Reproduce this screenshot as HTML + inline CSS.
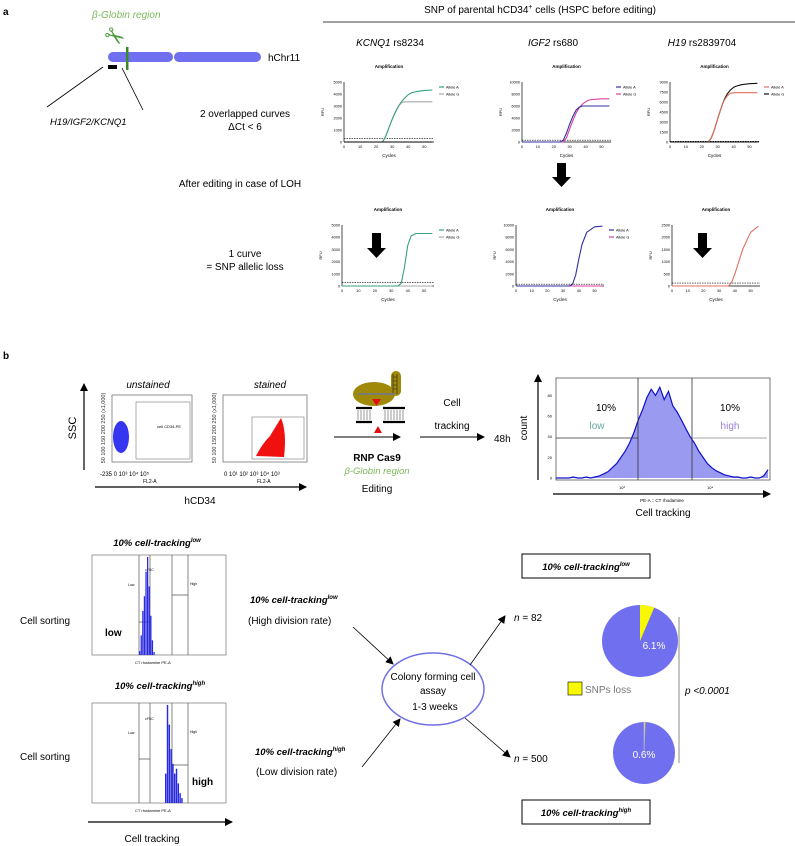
<!DOCTYPE html>
<html><head><meta charset="utf-8"><style>
html,body{margin:0;padding:0;background:#fff}
svg{display:block;font-family:"Liberation Sans",Arial,sans-serif}
</style></head><body>
<svg id="fig" width="795" height="846" viewBox="0 0 795 846" xmlns="http://www.w3.org/2000/svg">
<defs>
<marker id="ah" markerWidth="8" markerHeight="8" refX="7" refY="4" orient="auto" markerUnits="userSpaceOnUse"><path d="M0,0 L8,4 L0,8 z" fill="#000"/></marker>
</defs>
<g>
<text x="3" y="15" font-size="10" font-weight="bold">a</text>
<text x="92" y="18" font-size="10" font-style="italic" fill="#7ab85a">β-Globin region</text>
<text x="104" y="46" font-size="24" fill="#4a9a3a" transform="rotate(35 116 38)">✂</text>
<rect x="108" y="52" width="65" height="10" rx="5" fill="#6f6ff0"/>
<rect x="174" y="52" width="87" height="10" rx="5" fill="#6f6ff0"/>
<rect x="126" y="47" width="2.5" height="23" fill="#3a8a2a"/>
<rect x="108" y="65" width="9" height="4" fill="#000"/>
<line x1="103" y1="67" x2="47" y2="107" stroke="#000" stroke-width="0.8"/>
<line x1="122" y1="68" x2="143" y2="110" stroke="#000" stroke-width="0.8"/>
<text x="268" y="61" font-size="10">hChr11</text>
<text x="50" y="125" font-size="9.5" font-style="italic">H19/IGF2/KCNQ1</text>
<text x="245" y="117" font-size="10" text-anchor="middle">2  overlapped curves</text>
<text x="245" y="130" font-size="10" text-anchor="middle">ΔCt &lt; 6</text>
<text x="240" y="187" font-size="10" text-anchor="middle">After editing  in case of LOH</text>
<text x="245" y="257" font-size="10" text-anchor="middle">1 curve</text>
<text x="245" y="270" font-size="10" text-anchor="middle">= SNP allelic loss</text>
<text x="540" y="13" font-size="10" text-anchor="middle">SNP of parental hCD34<tspan dy="-4" font-size="7">+</tspan><tspan dy="4"> cells (HSPC before editing)</tspan></text>
<line x1="323" y1="22" x2="795" y2="22" stroke="#000" stroke-width="0.8"/>
<text x="390" y="46" font-size="10" text-anchor="middle"><tspan font-style="italic">KCNQ1</tspan> rs8234</text>
<text x="553" y="46" font-size="10" text-anchor="middle"><tspan font-style="italic">IGF2</tspan> rs680</text>
<text x="702" y="46" font-size="10" text-anchor="middle"><tspan font-style="italic">H19</tspan> rs2839704</text>
<path d="M557,163 h9 v14 h5 l-9.5,10 l-9.5,-10 h5 z" fill="#000"/>
<path d="M372,233 h9 v15 h5 l-9.5,10 l-9.5,-10 h5 z" fill="#000"/>
<path d="M698,233 h9 v15 h5 l-9.5,10 l-9.5,-10 h5 z" fill="#000"/>
</g>
<g id="qpcr"></g>

<g>
<text x="3" y="359" font-size="10" font-weight="bold">b</text>
<line x1="84" y1="470" x2="84" y2="384" stroke="#000" stroke-width="1.2" marker-end="url(#ah)"/>
<text x="76" y="428" font-size="11" transform="rotate(-90 76 428)" text-anchor="middle">SSC</text>
<line x1="95" y1="487" x2="306" y2="487" stroke="#000" stroke-width="1.2" marker-end="url(#ah)"/>
<text x="200" y="504" font-size="10" text-anchor="middle">hCD34</text>
<text x="148" y="388" font-size="10" font-style="italic" text-anchor="middle">unstained</text>
<text x="270" y="388" font-size="10" font-style="italic" text-anchor="middle">stained</text>
<rect x="112" y="395" width="80" height="67" fill="none" stroke="#777" stroke-width="0.8"/>
<rect x="136" y="402" width="54" height="57" fill="none" stroke="#777" stroke-width="0.6"/>
<text x="157" y="428" font-size="4">cell CD34-PE</text>
<ellipse cx="121" cy="437" rx="8" ry="16" fill="#2020f0" opacity="0.9"/>
<text x="105" y="428" font-size="5.5" transform="rotate(-90 105 428)" text-anchor="middle" fill="#333">50 100 150 200 250 (x1,000)</text>
<text x="100" y="476" font-size="6">-235  0   10³  10⁴  10⁵</text>
<text x="143" y="483" font-size="5">FL2-A</text>
<rect x="223" y="395" width="84" height="67" fill="none" stroke="#777" stroke-width="0.8"/>
<rect x="252" y="417" width="52" height="42" fill="none" stroke="#777" stroke-width="0.6"/>
<path d="M256,456 Q262,444 270,436 Q276,426 281,418 Q287,432 284,457 z" fill="#f01010"/>
<text x="216" y="428" font-size="5.5" transform="rotate(-90 216 428)" text-anchor="middle" fill="#333">50 100 150 200 250 (x1,000)</text>
<text x="224" y="476" font-size="6">0 10¹ 10² 10³ 10⁴ 10³</text>
<text x="257" y="483" font-size="5">FL2-A</text>
<g>
<ellipse cx="374" cy="394" rx="21" ry="12" fill="#a08808"/>
<rect x="391" y="371" width="10" height="25" rx="5" fill="#a08808"/>
<path d="M393,374 v20 M397,374 v20 M393,377h4M393,381h4M393,385h4M393,389h4" stroke="#222" stroke-width="0.6"/>
<line x1="358" y1="394" x2="395" y2="394" stroke="#6a7a9a" stroke-width="1.5"/>
<path d="M372,399 h9 l-4.5,7 z" fill="#e01010"/>
<path d="M356,408 h16 M383,408 h22 M356,422 h16 M383,422 h22" stroke="#000" stroke-width="2.2"/>
<path d="M358,410 v10 M361,410v10 M364,410v10 M367,410v10 M370,410v10 M385,410v10 M388,410v10 M391,410v10 M394,410v10 M397,410v10 M400,410v10 M403,410v10" stroke="#000" stroke-width="0.4"/>
<path d="M378,426 l4,7 h-8 z" fill="#e01010"/>
</g>
<line x1="334" y1="437" x2="400" y2="437" stroke="#000" stroke-width="1" marker-end="url(#ah)"/>
<text x="377" y="461" font-size="10" font-weight="bold" text-anchor="middle">RNP Cas9</text>
<text x="377" y="474" font-size="9.5" font-style="italic" fill="#7ab85a" text-anchor="middle">β-Globin region</text>
<text x="377" y="492" font-size="10" text-anchor="middle">Editing</text>
<text x="452" y="406" font-size="10" text-anchor="middle">Cell</text>
<text x="452" y="429" font-size="10" text-anchor="middle">tracking</text>
<line x1="420" y1="437" x2="484" y2="437" stroke="#000" stroke-width="1" marker-end="url(#ah)"/>
<text x="494" y="442" font-size="10">48h</text>
<line x1="538" y1="480" x2="538" y2="375" stroke="#000" stroke-width="1.2" marker-end="url(#ah)"/>
<text x="527" y="428" font-size="10" transform="rotate(-90 527 428)" text-anchor="middle">count</text>
<line x1="553" y1="494" x2="770" y2="494" stroke="#000" stroke-width="1.2" marker-end="url(#ah)"/>
<rect x="556" y="378" width="214" height="102" fill="none" stroke="#555" stroke-width="0.8"/>
</g>
<g id="hist"></g>
<g>
<line x1="638" y1="378" x2="638" y2="480" stroke="#333" stroke-width="0.8"/>
<line x1="692" y1="378" x2="692" y2="480" stroke="#333" stroke-width="0.8"/>
<line x1="556" y1="438" x2="638" y2="438" stroke="#333" stroke-width="0.8"/>
<line x1="692" y1="438" x2="767" y2="438" stroke="#888" stroke-width="0.8"/>
<text x="606" y="411" font-size="10" text-anchor="middle">10%</text>
<text x="597" y="429" font-size="10" fill="#66a8a0" text-anchor="middle">low</text>
<text x="730" y="411" font-size="10" text-anchor="middle">10%</text>
<text x="730" y="429" font-size="10" fill="#9a80d8" text-anchor="middle">high</text>
<text x="662" y="502" font-size="4.5" text-anchor="middle">PE-A :: CT rhodamine</text>
<text x="663" y="516" font-size="10" text-anchor="middle">Cell tracking</text>
<text x="619" y="489" font-size="4">10³</text>
<text x="707" y="489" font-size="4">10⁴</text>
</g>

<g>
<text x="157" y="546" font-size="9.5" font-weight="bold" font-style="italic" text-anchor="middle">10% cell-tracking<tspan dy="-4" font-size="6">low</tspan></text>
<rect x="92" y="555" width="134" height="100" fill="none" stroke="#777" stroke-width="0.7"/>
<text x="20" y="624" font-size="10">Cell sorting</text>
<text x="105" y="636" font-size="10" font-weight="bold">low</text>
<text x="160" y="689" font-size="9.5" font-weight="bold" font-style="italic" text-anchor="middle">10% cell-tracking<tspan dy="-4" font-size="6">high</tspan></text>
<rect x="92" y="703" width="134" height="100" fill="none" stroke="#777" stroke-width="0.7"/>
<text x="20" y="760" font-size="10">Cell sorting</text>
<text x="192" y="785" font-size="10" font-weight="bold">high</text>
<line x1="88" y1="822" x2="232" y2="822" stroke="#000" stroke-width="1.2" marker-end="url(#ah)"/>
<text x="152" y="842" font-size="10" text-anchor="middle">Cell tracking</text>
<g stroke="#555" stroke-width="0.7" fill="none">
<path d="M139,555v100 M150,555v100 M172,555v100 M188,555v100 M172,595h16 M139,622h11"/>
<path d="M139,703v100 M150,703v100 M172,703v100 M188,703v100 M139,759h11 M172,765h16"/>
</g>
<text x="128" y="586" font-size="3.5">Low</text><text x="190" y="585" font-size="3.5">High</text>
<text x="128" y="734" font-size="3.5">Low</text><text x="190" y="733" font-size="3.5">High</text>
<text x="145" y="571" font-size="3.5">cFSC</text><text x="145" y="720" font-size="3.5">cFSC</text>
<text x="135" y="664" font-size="4">CT rhodamine PE-A</text>
<text x="135" y="812" font-size="4">CT rhodamine PE-A</text>
</g>
<g id="sorthist"></g>

<g>
<text x="250" y="603" font-size="9.5" font-weight="bold" font-style="italic">10% cell-tracking<tspan dy="-4" font-size="6">low</tspan></text>
<text x="248" y="624" font-size="10">(High division rate)</text>
<text x="255" y="755" font-size="9.5" font-weight="bold" font-style="italic">10% cell-tracking<tspan dy="-4" font-size="6">high</tspan></text>
<text x="256" y="775" font-size="10">(Low division rate)</text>
<ellipse cx="433" cy="689" rx="51" ry="36" fill="none" stroke="#7070e8" stroke-width="1.5"/>
<text x="433" y="680" font-size="10" text-anchor="middle">Colony forming cell</text>
<text x="433" y="694" font-size="10" text-anchor="middle">assay</text>
<text x="435" y="710" font-size="10" text-anchor="middle">1-3 weeks</text>
<line x1="353" y1="627" x2="393" y2="664" stroke="#000" stroke-width="0.8" marker-end="url(#ah)"/>
<line x1="362" y1="767" x2="400" y2="719" stroke="#000" stroke-width="0.8" marker-end="url(#ah)"/>
<line x1="470" y1="665" x2="505" y2="616" stroke="#000" stroke-width="0.8" marker-end="url(#ah)"/>
<line x1="465" y1="718" x2="510" y2="757" stroke="#000" stroke-width="0.8" marker-end="url(#ah)"/>
<text x="514" y="621" font-size="10"><tspan font-style="italic">n</tspan> = 82</text>
<text x="514" y="762" font-size="10"><tspan font-style="italic">n</tspan> = 500</text>
<rect x="522" y="554" width="128" height="24" fill="none" stroke="#000" stroke-width="1"/>
<text x="586" y="570" font-size="9.5" font-weight="bold" font-style="italic" text-anchor="middle">10% cell-tracking<tspan dy="-4" font-size="6">low</tspan></text>
<rect x="522" y="800" width="128" height="24" fill="none" stroke="#000" stroke-width="1"/>
<text x="586" y="816" font-size="9.5" font-weight="bold" font-style="italic" text-anchor="middle">10% cell-tracking<tspan dy="-4" font-size="6">high</tspan></text>
<rect x="568" y="682" width="14" height="13" fill="#f8f800" stroke="#000" stroke-width="0.6"/>
<text x="585" y="693" font-size="10" fill="#777">SNPs loss</text>
<line x1="679" y1="617" x2="679" y2="763" stroke="#888" stroke-width="1"/>
<text x="685" y="694" font-size="10" font-style="italic">p &lt;0.0001</text>
</g>
<g id="pies"></g>
</svg>
<script>
const NS='http://www.w3.org/2000/svg';
const cycles=[0,20,24,26,28,30,32,34,36,38,40,42,45,50,55];
const kcnqTopA=[0,0,0,500,1200,1900,2500,3000,3400,3700,3950,4100,4200,4300,4330];
const kcnqTopG=[0,0,0,500,1200,1900,2500,3000,3300,3350,3350,3350,3350,3350,3350];
const igfTopA=[0,0,0,300,1500,3000,4300,5300,5800,6000,6000,6000,6000,6000,6000];
const igfTopG=[0,0,0,0,700,2200,3600,4800,5700,6300,6700,7000,7100,7200,7200];
const h19TopA=[0,0,0,600,1900,3500,5000,6200,6900,7300,7400,7400,7400,7400,7400];
const h19TopG=[0,0,0,600,1900,3500,5000,6300,7200,7800,8200,8400,8600,8750,8800];
const h19TopFlat=[0,0,0,0,0,0,0,0,0,0,0,0,0,0,0];
const kcnqBotA=[0,0,0,0,0,0,0,0,200,1500,3300,4100,4300,4300,4300];
const igfBotA=[0,0,0,0,0,0,0,0,300,1800,4500,6800,8800,9700,9800];
const h19BotA=[0,0,0,0,0,0,0,0,0,150,500,900,1500,2200,2450];
const zeroLine=[0,0,0,0,0,0,0,0,0,0,0,0,0,0,0];
const tickCycles=[0,10,20,30,40,50];
function mk(tag,attrs,parent){const e=document.createElementNS(NS,tag);for(const k in attrs)e.setAttribute(k,attrs[k]);parent.appendChild(e);return e;}
const q=document.getElementById('qpcr');
function qchart(name,x0,y0,w,h,ymax,yticks,thr,series,legend){
  const g=mk('g',{},q);
  
  
  const sx=c=>x0+c/56*w, sy=v=>y0+h-v/ymax*h;
  mk('text',{x:x0+w/2,y:y0-14,'font-size':4.5,'font-weight':'bold','text-anchor':'middle'},g).textContent='Amplification';
  mk('line',{x1:x0,y1:y0,x2:x0,y2:y0+h,stroke:'#000','stroke-width':0.7},g);
  mk('line',{x1:x0,y1:y0+h,x2:x0+w,y2:y0+h,stroke:'#000','stroke-width':0.7},g);
  yticks.forEach(t=>{mk('text',{x:x0-2,y:sy(t)+1.5,'font-size':3.8,'text-anchor':'end'},g).textContent=t;});
  tickCycles.forEach(t=>{mk('text',{x:sx(t),y:y0+h+6,'font-size':3.8,'text-anchor':'middle'},g).textContent=t;});
  mk('text',{x:x0+w/2,y:y0+h+15,'font-size':4.5,'text-anchor':'middle'},g).textContent='Cycles';
  const rt=mk('text',{x:x0-20,y:y0+h/2,'font-size':4,'text-anchor':'middle',transform:`rotate(-90 ${x0-20} ${y0+h/2})`},g);rt.textContent='RFU';
  mk('line',{x1:x0,y1:sy(thr),x2:x0+w,y2:sy(thr),stroke:'#000','stroke-width':0.6,'stroke-dasharray':'1.5,1'},g);
  series.forEach(s=>{
    let d='';s.vals.forEach((v,i)=>{d+=(i?'L':'M')+sx(cycles[i]).toFixed(1)+','+sy(v).toFixed(1);});
    const p=mk('path',{d:d,fill:'none',stroke:s.color,'stroke-width':1.1,'stroke-linejoin':'round'},g);
    
    
  });
  legend.forEach((l,i)=>{
    mk('line',{x1:x0+w+5,y1:y0+5+i*7,x2:x0+w+10,y2:y0+5+i*7,stroke:l[1],'stroke-width':1.2},g);
    mk('text',{x:x0+w+12,y:y0+6.5+i*7,'font-size':3.8},g).textContent=l[0];
  });
}
qchart('kcnq1-before',344,82,90,60,5000,[0,1000,2000,3000,4000,5000],300,[{key:'allele-g',color:'#aaaaaa',vals:kcnqTopG},{key:'allele-a',color:'#3aa078',vals:kcnqTopA},{key:'base',color:'#000',vals:zeroLine}],[['Allele A','#3aa078'],['Allele G','#aaaaaa']]);
qchart('igf2-before',522,82,89,60,10000,[0,2000,4000,6000,8000,10000],300,[{key:'allele-g',color:'#e040a0',vals:igfTopG},{key:'allele-a',color:'#3030a0',vals:igfTopA}],[['Allele A','#3030a0'],['Allele G','#e040a0']]);
qchart('h19-before',670,82,89,60,9000,[0,1500,3000,4500,6000,7500,9000],100,[{key:'allele-g',color:'#111',vals:h19TopG},{key:'allele-a',color:'#e07060',vals:h19TopA},{key:'base',color:'#111',vals:h19TopFlat}],[['Allele A','#e07060'],['Allele G','#111']]);
qchart('kcnq1-after',342,225,92,61,5000,[0,1000,2000,3000,4000,5000],300,[{key:'allele-g',color:'#aaaaaa',vals:zeroLine},{key:'allele-a',color:'#3aa078',vals:kcnqBotA}],[['Allele A','#3aa078'],['Allele G','#aaaaaa']]);
qchart('igf2-after',516,225,88,61,10000,[0,2000,4000,6000,8000,10000],300,[{key:'allele-g',color:'#e040a0',vals:zeroLine},{key:'allele-a',color:'#3030a0',vals:igfBotA}],[['Allele A','#3030a0'],['Allele G','#e040a0']]);
qchart('h19-after',672,225,88,61,2500,[0,500,1000,1500,2000,2500],120,[{key:'allele-a',color:'#e07060',vals:h19BotA}],[]);

const histCounts=[0,0,0,0,1,0,0,1,0,1,2,4,6,10,14,20,26,34,44,56,66,78,86,80,88,76,84,70,64,56,48,40,34,26,20,14,10,7,5,3,2,1,1,0,0,1,0,0,2,8];
const histYMax=95;
(function(){
  const g=document.getElementById('hist');
  const x0=556,w=212,y0=378,h=102,n=histCounts.length;
  const sx=i=>x0+i/(n-1)*w, sy=v=>y0+h-2-v/histYMax*(h-4);
  let d='M'+sx(0)+','+sy(0);
  histCounts.forEach((v,i)=>{d+='L'+sx(i).toFixed(1)+','+sy(v).toFixed(1);});
  const area=mk('path',{d:d+'L'+sx(n-1)+','+sy(0)+'Z',fill:'#9a9af0',stroke:'none'},g);
  
  
  const line=mk('path',{d:d,fill:'none',stroke:'#1010d0','stroke-width':1.2},g);
  
  
  [0,20,40,60,80].forEach(t=>{mk('text',{x:x0-4,y:sy(t)+1.5,'font-size':4,'text-anchor':'end'},g).textContent=t;});
})();

const sortBins=[0,1,2,3,4,5,6,7,8,9];
const sortLowVals=[4,20,45,60,85,100,70,40,15,3];
const sortHighVals=[30,100,80,55,40,30,35,20,10,5];
(function(){
  const g=document.getElementById('sorthist');
  function draw(name,x0,bw,yBase,h,vals){
    vals.forEach((v,i)=>{
      const r=mk('rect',{x:x0+sortBins[i]*bw,y:yBase-v/100*h,width:bw*0.8,height:v/100*h,fill:'#2828e0'},g);
      
      
    });
  }
  draw('sort-low',139,1.6,655,98,sortLowVals);
  draw('sort-high',165,1.8,803,98,sortHighVals);
})();

const pieLabels=['6.1%','0.6%'];
const snpLoss=[6.1,0.6];
(function(){
  const g=document.getElementById('pies');
  const specs=[[640,641,38,36],[644,753,31,31]];
  snpLoss.forEach((p,i)=>{
    const [cx,cy,rx,ry]=specs[i];
    const e=mk('ellipse',{cx:cx,cy:cy,rx:rx,ry:ry,fill:'#6f6ff0'},g);
    
    
    const a=p/100*2*Math.PI;
    const x2=cx+rx*Math.sin(a), y2=cy-ry*Math.cos(a);
    const s=mk('path',{d:`M${cx},${cy}L${cx},${cy-ry}A${rx},${ry} 0 0 1 ${x2.toFixed(2)},${y2.toFixed(2)}Z`,fill:'#f8f800',stroke:p<1?'#bbb':'none','stroke-width':0.6},g);
    
    
    mk('text',{x:cx+(i?0:14),y:cy+(i?5:8),'font-size':10,fill:'#fff','text-anchor':'middle'},g).textContent=pieLabels[i];
  });
})();
</script>
</body></html>
